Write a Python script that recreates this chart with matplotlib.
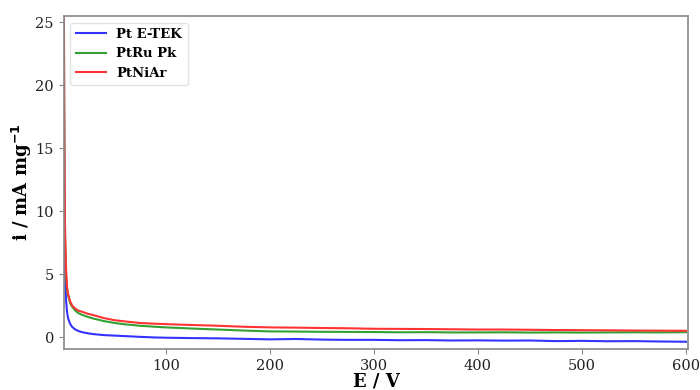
import matplotlib
matplotlib.use("Agg")
import matplotlib.pyplot as plt

# ==========================================================
# data
# ==========================================================

t = [2, 2.5, 3, 4, 5, 6, 8, 10, 13, 16, 20, 25, 30, 40, 50, 60, 75, 90,
     100, 125, 150, 175, 200, 225, 250, 275, 300, 325, 350, 375, 400,
     425, 450, 475, 500, 525, 550, 575, 600]

pt_etek = [20, 8, 5.0, 3.0, 2.0, 1.5, 1.05, 0.8, 0.6, 0.48, 0.38, 0.3, 0.24,
           0.16, 0.12, 0.08, 0.02, -0.03, -0.05, -0.08, -0.1, -0.14, -0.18,
           -0.15, -0.2, -0.22, -0.22, -0.25, -0.24, -0.27, -0.26, -0.28,
           -0.27, -0.32, -0.3, -0.33, -0.32, -0.35, -0.37]

ptru_pk = [24, 12, 8, 5.0, 3.8, 3.3, 2.7, 2.4, 2.1, 1.9, 1.75, 1.6, 1.48,
           1.28, 1.13, 1.02, 0.9, 0.82, 0.77, 0.68, 0.6, 0.52, 0.45, 0.44,
           0.42, 0.41, 0.4, 0.38, 0.39, 0.37, 0.37, 0.38, 0.36, 0.37, 0.36,
           0.37, 0.38, 0.37, 0.39]

ptniar = [26, 15, 9, 5.5, 4.0, 3.4, 2.85, 2.5, 2.25, 2.1, 2.0, 1.85, 1.75,
          1.52, 1.35, 1.25, 1.12, 1.06, 1.03, 0.96, 0.9, 0.82, 0.77, 0.75,
          0.72, 0.7, 0.66, 0.65, 0.64, 0.62, 0.6, 0.6, 0.58, 0.56, 0.55,
          0.54, 0.52, 0.51, 0.5]

labels = ["Pt E-TEK", "PtRu Pk", "PtNiAr"]
colors = ["#3333ff", "#33a033", "#ff3333"]

# ==========================================================
# plot
# ==========================================================

plt.rcParams["font.family"] = "DejaVu Serif"

fig = plt.figure(figsize=(7, 3.9), dpi=100)
ax = fig.add_axes([0.091, 0.105, 0.892, 0.854])

for y, lab, c in zip([pt_etek, ptru_pk, ptniar], labels, colors):
    ax.plot(t, y, color=c, lw=1.5, label=lab)

ax.set_xlim(1.8, 602)
ax.set_ylim(-0.95, 25.5)
ax.set_xticks([100, 200, 300, 400, 500, 600])
ax.set_yticks([0, 5, 10, 15, 20, 25])

for s in ax.spines.values():
    s.set_color("#888888")
    s.set_linewidth(1.2)

ax.tick_params(colors="#888888", labelcolor="#222222", labelsize=10.5,
               length=3.5)

ax.set_xlabel("E / V", fontsize=13, fontweight="bold", labelpad=0)
ax.set_ylabel(r"i / mA mg$^{\mathbf{-1}}$", fontsize=13, fontweight="bold",
              labelpad=1)

leg = ax.legend(loc="upper left", prop={"weight": "bold", "size": 9.5},
                frameon=True, handlelength=2.3, borderaxespad=0.5)
leg.get_frame().set_edgecolor("#dddddd")

fig.savefig("out.png", dpi=100)
